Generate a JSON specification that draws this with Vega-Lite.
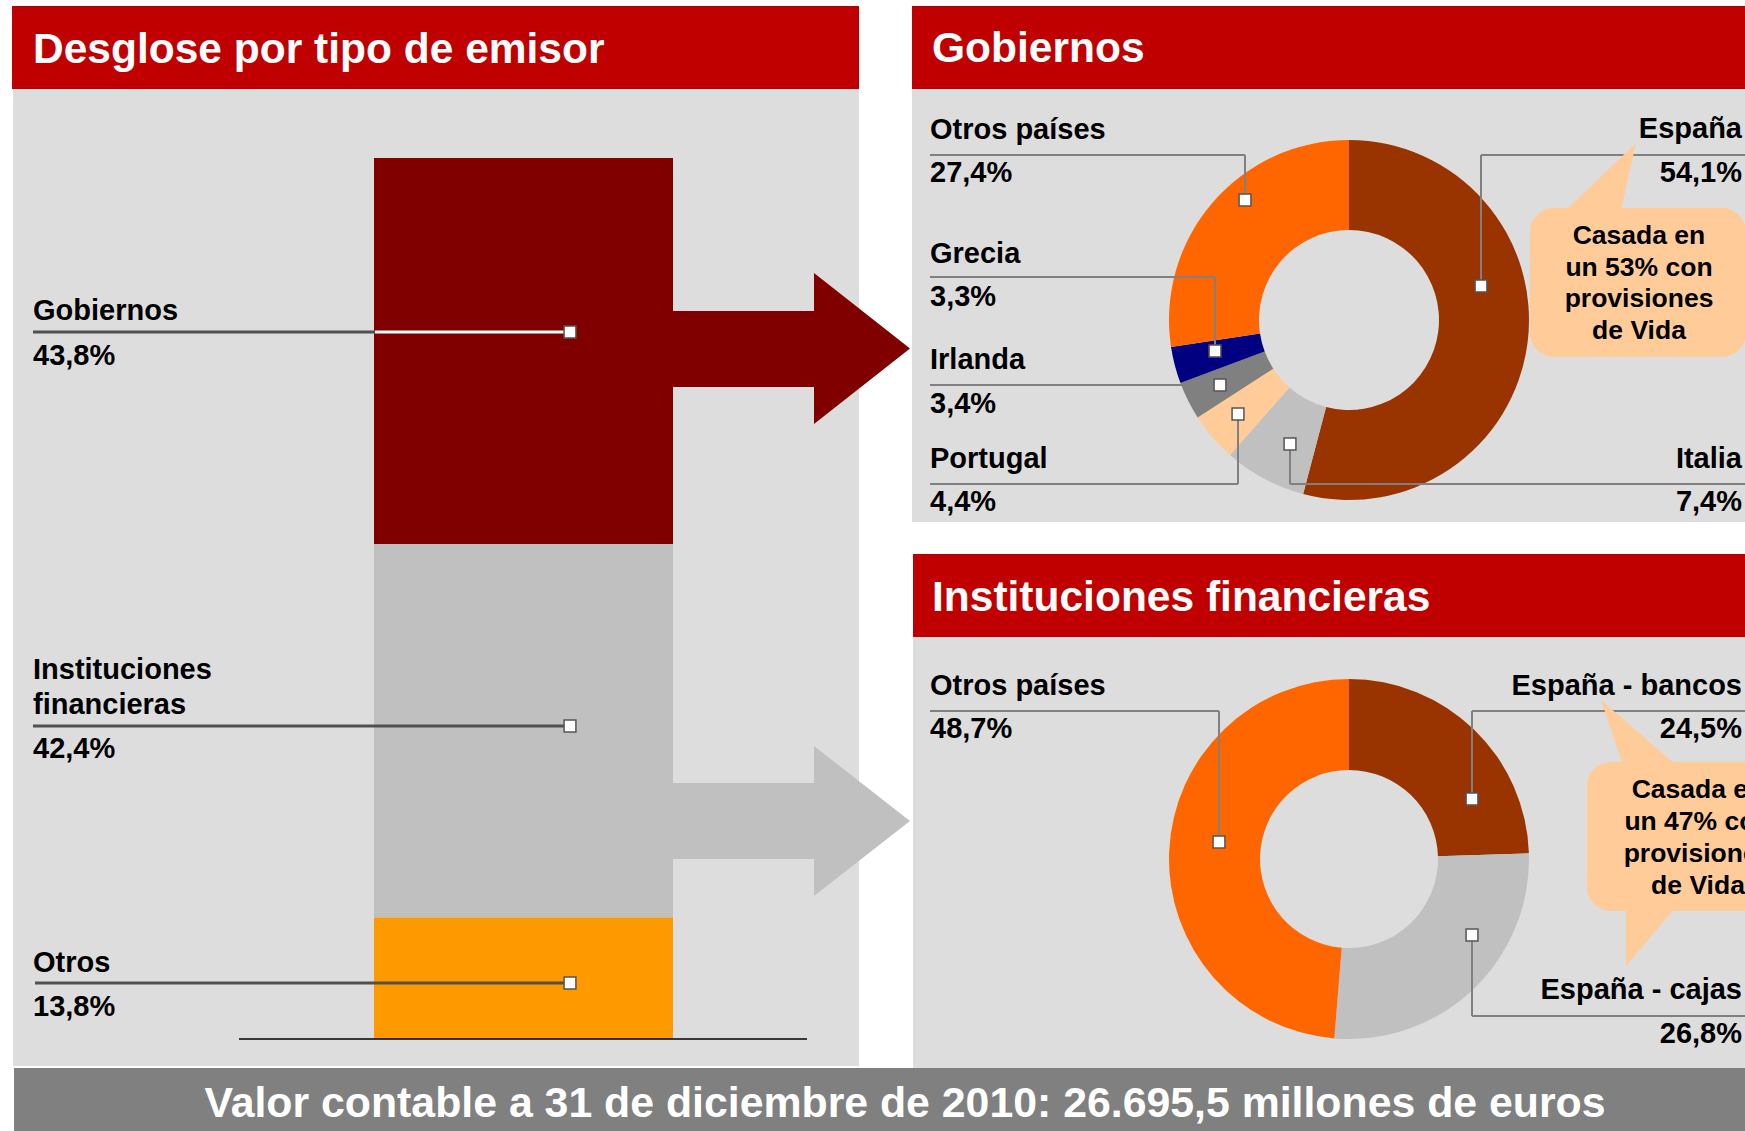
{
  "$schema": "https://vega.github.io/schema/vega-lite/v6.json",
  "width": 1745,
  "height": 1131,
  "autosize": {"type": "none"},
  "padding": 0,
  "background": "white",
  "datasets": {
    "emisor": [
      {"tipo": "Gobiernos", "pct": 43.8, "orden": 3},
      {"tipo": "Instituciones financieras", "pct": 42.4, "orden": 2},
      {"tipo": "Otros", "pct": 13.8, "orden": 1}
    ],
    "gobiernos": [
      {"pais": "España", "pct": 54.1, "orden": 1},
      {"pais": "Italia", "pct": 7.4, "orden": 2},
      {"pais": "Portugal", "pct": 4.4, "orden": 3},
      {"pais": "Irlanda", "pct": 3.4, "orden": 4},
      {"pais": "Grecia", "pct": 3.3, "orden": 5},
      {"pais": "Otros países", "pct": 27.4, "orden": 6}
    ],
    "financieras": [
      {"pais": "España - bancos", "pct": 24.5, "orden": 1},
      {"pais": "España - cajas", "pct": 26.8, "orden": 2},
      {"pais": "Otros países", "pct": 48.7, "orden": 3}
    ]
  },
  "data": {"values": [{}]},
  "config": {
    "view": {"stroke": null},
    "axis": {"disable": true},
    "legend": {"disable": true},
    "text": {"font": "Liberation Sans", "fontWeight": "bold", "fontSize": 29, "color": "black", "baseline": "alphabetic"},
    "rule": {"stroke": "#808080", "strokeWidth": 2},
    "point": {"shape": "square", "size": 140, "filled": true, "fill": "white", "stroke": "#555555", "strokeWidth": 1.5, "opacity": 1},
    "rect": {"strokeWidth": 0}
  },
  "resolve": {"scale": {"y": "independent"}},
  "layer": [
    {
      "layer": [
        {"mark": {"type": "rect", "color": "#DDDDDD"},
         "encoding": {
           "x": {"datum": 13, "type": "quantitative", "scale": {"type": "linear", "domain": [0, 1745], "range": [0, 1745], "nice": false, "zero": false}},
           "x2": {"datum": 859},
           "y": {"datum": 89, "type": "quantitative", "scale": {"type": "linear", "domain": [0, 1131], "range": [0, 1131], "nice": false, "zero": false}},
           "y2": {"datum": 1066}}},
        {"mark": {"type": "rect", "color": "#C00000"},
         "encoding": {"x": {"datum": 12}, "x2": {"datum": 859}, "y": {"datum": 6}, "y2": {"datum": 89}}},
        {"mark": {"type": "rect", "color": "#DDDDDD"},
         "encoding": {"x": {"datum": 912}, "x2": {"datum": 1745}, "y": {"datum": 89}, "y2": {"datum": 522}}},
        {"mark": {"type": "rect", "color": "#C00000"},
         "encoding": {"x": {"datum": 912}, "x2": {"datum": 1745}, "y": {"datum": 6}, "y2": {"datum": 89}}},
        {"mark": {"type": "rect", "color": "#DDDDDD"},
         "encoding": {"x": {"datum": 913}, "x2": {"datum": 1745}, "y": {"datum": 637}, "y2": {"datum": 1068}}},
        {"mark": {"type": "rect", "color": "#C00000"},
         "encoding": {"x": {"datum": 913}, "x2": {"datum": 1745}, "y": {"datum": 554}, "y2": {"datum": 637}}},
        {"mark": {"type": "rect", "color": "#808080"},
         "encoding": {"x": {"datum": 14}, "x2": {"datum": 1745}, "y": {"datum": 1068}, "y2": {"datum": 1131}}},
        {"mark": {"type": "point", "shape": "M -1 -0.3125 L 0.1875 -0.3125 L 0.1875 -0.629 L 0.9875 0 L 0.1875 0.629 L 0.1875 0.3208 L -1 0.3208 Z", "size": 57600, "filled": true, "fill": "#800000", "strokeWidth": 0, "opacity": 1},
         "encoding": {"x": {"datum": 791.5}, "y": {"datum": 348.5}}},
        {"mark": {"type": "point", "shape": "M -1 -0.3167 L 0.1875 -0.3167 L 0.1875 -0.625 L 0.9875 0 L 0.1875 0.625 L 0.1875 0.3167 L -1 0.3167 Z", "size": 57600, "filled": true, "fill": "#C0C0C0", "strokeWidth": 0, "opacity": 1},
         "encoding": {"x": {"datum": 791.5}, "y": {"datum": 821}}}
      ]
    },
    {
      "data": {"name": "emisor"},
      "transform": [{"stack": "pct", "groupby": [], "sort": [{"field": "orden", "order": "ascending"}], "as": ["v0", "v1"]}],
      "mark": {"type": "rect"},
      "encoding": {
        "x": {"datum": 374},
        "x2": {"datum": 673},
        "y": {"field": "v0", "type": "quantitative", "scale": {"type": "linear", "domain": [0, 100], "range": [1039, 158], "nice": false, "zero": false}},
        "y2": {"field": "v1"},
        "color": {"field": "tipo", "type": "nominal", "scale": {"domain": ["Gobiernos", "Instituciones financieras", "Otros", "España", "Italia", "Portugal", "Irlanda", "Grecia", "Otros países", "España - bancos", "España - cajas"], "range": ["#800000", "#C0C0C0", "#FF9900", "#993300", "#C0C0C0", "#FFCC99", "#808080", "#000080", "#FF6600", "#993300", "#C0C0C0"]}}
      }
    },
    {
      "layer": [
        {"mark": {"type": "rule", "stroke": "black", "strokeWidth": 1.5},
         "encoding": {
           "x": {"datum": 239, "type": "quantitative"}, "x2": {"datum": 807},
           "y": {"datum": 1039, "type": "quantitative", "scale": {"type": "linear", "domain": [0, 1131], "range": [0, 1131], "nice": false, "zero": false}}}},
        {"data": {"name": "gobiernos"},
         "mark": {"type": "arc", "innerRadius": 90, "outerRadius": 180},
         "encoding": {
           "x": {"datum": 1349}, "y": {"datum": 320},
           "theta": {"field": "pct", "type": "quantitative", "stack": true},
           "order": {"field": "orden"},
           "color": {"field": "pais", "type": "nominal", "scale": {"domain": ["Gobiernos", "Instituciones financieras", "Otros", "España", "Italia", "Portugal", "Irlanda", "Grecia", "Otros países", "España - bancos", "España - cajas"], "range": ["#800000", "#C0C0C0", "#FF9900", "#993300", "#C0C0C0", "#FFCC99", "#808080", "#000080", "#FF6600", "#993300", "#C0C0C0"]}}}},
        {"data": {"name": "financieras"},
         "mark": {"type": "arc", "innerRadius": 89, "outerRadius": 180},
         "encoding": {
           "x": {"datum": 1349}, "y": {"datum": 859},
           "theta": {"field": "pct", "type": "quantitative", "stack": true},
           "order": {"field": "orden"},
           "color": {"field": "pais", "type": "nominal", "scale": {"domain": ["Gobiernos", "Instituciones financieras", "Otros", "España", "Italia", "Portugal", "Irlanda", "Grecia", "Otros países", "España - bancos", "España - cajas"], "range": ["#800000", "#C0C0C0", "#FF9900", "#993300", "#C0C0C0", "#FFCC99", "#808080", "#000080", "#FF6600", "#993300", "#C0C0C0"]}}}},

        {"mark": {"type": "rule", "stroke": "#505050", "strokeWidth": 3}, "encoding": {"x": {"datum": 33}, "x2": {"datum": 375}, "y": {"datum": 332}}},
        {"mark": {"type": "rule", "stroke": "white", "strokeWidth": 3}, "encoding": {"x": {"datum": 375}, "x2": {"datum": 565}, "y": {"datum": 332}}},
        {"mark": {"type": "rule", "stroke": "#505050", "strokeWidth": 3}, "encoding": {"x": {"datum": 33}, "x2": {"datum": 565}, "y": {"datum": 726}}},
        {"mark": {"type": "rule", "stroke": "#505050", "strokeWidth": 3}, "encoding": {"x": {"datum": 35}, "x2": {"datum": 565}, "y": {"datum": 983}}},

        {"mark": {"type": "rule"}, "encoding": {"x": {"datum": 930}, "x2": {"datum": 1245}, "y": {"datum": 155}}},
        {"mark": {"type": "rule"}, "encoding": {"x": {"datum": 1245}, "y": {"datum": 155}, "y2": {"datum": 195}}},
        {"mark": {"type": "rule"}, "encoding": {"x": {"datum": 930}, "x2": {"datum": 1215}, "y": {"datum": 277}}},
        {"mark": {"type": "rule"}, "encoding": {"x": {"datum": 1215}, "y": {"datum": 277}, "y2": {"datum": 346}}},
        {"mark": {"type": "rule"}, "encoding": {"x": {"datum": 930}, "x2": {"datum": 1220}, "y": {"datum": 385}}},
        {"mark": {"type": "rule"}, "encoding": {"x": {"datum": 930}, "x2": {"datum": 1238}, "y": {"datum": 484}}},
        {"mark": {"type": "rule"}, "encoding": {"x": {"datum": 1238}, "y": {"datum": 419}, "y2": {"datum": 484}}},
        {"mark": {"type": "rule"}, "encoding": {"x": {"datum": 1481}, "x2": {"datum": 1745}, "y": {"datum": 155}}},
        {"mark": {"type": "rule"}, "encoding": {"x": {"datum": 1481}, "y": {"datum": 155}, "y2": {"datum": 281}}},
        {"mark": {"type": "rule"}, "encoding": {"x": {"datum": 1290}, "x2": {"datum": 1745}, "y": {"datum": 484}}},
        {"mark": {"type": "rule"}, "encoding": {"x": {"datum": 1290}, "y": {"datum": 449}, "y2": {"datum": 484}}},
        {"mark": {"type": "rule"}, "encoding": {"x": {"datum": 930}, "x2": {"datum": 1219}, "y": {"datum": 711}}},
        {"mark": {"type": "rule"}, "encoding": {"x": {"datum": 1219}, "y": {"datum": 711}, "y2": {"datum": 837}}},
        {"mark": {"type": "rule"}, "encoding": {"x": {"datum": 1472}, "x2": {"datum": 1745}, "y": {"datum": 711}}},
        {"mark": {"type": "rule"}, "encoding": {"x": {"datum": 1472}, "y": {"datum": 711}, "y2": {"datum": 794}}},
        {"mark": {"type": "rule"}, "encoding": {"x": {"datum": 1472}, "x2": {"datum": 1745}, "y": {"datum": 1016}}},
        {"mark": {"type": "rule"}, "encoding": {"x": {"datum": 1472}, "y": {"datum": 940}, "y2": {"datum": 1016}}},

        {"mark": {"type": "point"}, "encoding": {"x": {"datum": 570}, "y": {"datum": 332}}},
        {"mark": {"type": "point"}, "encoding": {"x": {"datum": 570}, "y": {"datum": 726}}},
        {"mark": {"type": "point"}, "encoding": {"x": {"datum": 570}, "y": {"datum": 983}}},
        {"mark": {"type": "point"}, "encoding": {"x": {"datum": 1245}, "y": {"datum": 200}}},
        {"mark": {"type": "point"}, "encoding": {"x": {"datum": 1215}, "y": {"datum": 351}}},
        {"mark": {"type": "point"}, "encoding": {"x": {"datum": 1220}, "y": {"datum": 385}}},
        {"mark": {"type": "point"}, "encoding": {"x": {"datum": 1238}, "y": {"datum": 414}}},
        {"mark": {"type": "point"}, "encoding": {"x": {"datum": 1481}, "y": {"datum": 286}}},
        {"mark": {"type": "point"}, "encoding": {"x": {"datum": 1290}, "y": {"datum": 444}}},
        {"mark": {"type": "point"}, "encoding": {"x": {"datum": 1219}, "y": {"datum": 842}}},
        {"mark": {"type": "point"}, "encoding": {"x": {"datum": 1472}, "y": {"datum": 799}}},
        {"mark": {"type": "point"}, "encoding": {"x": {"datum": 1472}, "y": {"datum": 935}}},

        {"mark": {"type": "text", "text": "Desglose por tipo de emisor", "fontSize": 42.5, "color": "white", "align": "left"},
         "encoding": {"x": {"datum": 33}, "y": {"datum": 63}}},
        {"mark": {"type": "text", "text": "Gobiernos", "fontSize": 42.5, "color": "white", "align": "left"},
         "encoding": {"x": {"datum": 932}, "y": {"datum": 62}}},
        {"mark": {"type": "text", "text": "Instituciones financieras", "fontSize": 42.5, "color": "white", "align": "left"},
         "encoding": {"x": {"datum": 932}, "y": {"datum": 611}}},
        {"mark": {"type": "text", "text": "Valor contable a 31 de diciembre de 2010: 26.695,5 millones de euros", "fontSize": 42.8, "color": "white", "align": "center"},
         "encoding": {"x": {"datum": 905}, "y": {"datum": 1117}}},

        {"data": {"name": "emisor"},
         "transform": [{"filter": "datum.tipo == 'Gobiernos'"}, {"calculate": "datum.tipo + '\\n' + replace(format(datum.pct, '.1f'), '.', ',') + '%'", "as": "txt"}],
         "mark": {"type": "text", "align": "left", "lineBreak": "\n", "lineHeight": 45},
         "encoding": {"x": {"datum": 33}, "y": {"datum": 320}, "text": {"field": "txt"}}},
        {"data": {"name": "emisor"},
         "transform": [{"filter": "datum.tipo == 'Instituciones financieras'"}, {"calculate": "replace(datum.tipo, ' ', '\\n')", "as": "txt"}],
         "mark": {"type": "text", "align": "left", "lineBreak": "\n", "lineHeight": 35},
         "encoding": {"x": {"datum": 33}, "y": {"datum": 679}, "text": {"field": "txt"}}},
        {"data": {"name": "emisor"},
         "transform": [{"filter": "datum.tipo == 'Instituciones financieras'"}, {"calculate": "replace(format(datum.pct, '.1f'), '.', ',') + '%'", "as": "txt"}],
         "mark": {"type": "text", "align": "left"},
         "encoding": {"x": {"datum": 33}, "y": {"datum": 758}, "text": {"field": "txt"}}},
        {"data": {"name": "emisor"},
         "transform": [{"filter": "datum.tipo == 'Otros'"}, {"calculate": "datum.tipo + '\\n' + replace(format(datum.pct, '.1f'), '.', ',') + '%'", "as": "txt"}],
         "mark": {"type": "text", "align": "left", "lineBreak": "\n", "lineHeight": 44},
         "encoding": {"x": {"datum": 33}, "y": {"datum": 972}, "text": {"field": "txt"}}},

        {"data": {"name": "gobiernos"},
         "transform": [{"filter": "datum.pais == 'Otros países'"}, {"calculate": "datum.pais + '\\n' + replace(format(datum.pct, '.1f'), '.', ',') + '%'", "as": "txt"}],
         "mark": {"type": "text", "align": "left", "lineBreak": "\n", "lineHeight": 43},
         "encoding": {"x": {"datum": 930}, "y": {"datum": 139}, "text": {"field": "txt"}}},
        {"data": {"name": "gobiernos"},
         "transform": [{"filter": "datum.pais == 'Grecia'"}, {"calculate": "datum.pais + '\\n' + replace(format(datum.pct, '.1f'), '.', ',') + '%'", "as": "txt"}],
         "mark": {"type": "text", "align": "left", "lineBreak": "\n", "lineHeight": 43},
         "encoding": {"x": {"datum": 930}, "y": {"datum": 263}, "text": {"field": "txt"}}},
        {"data": {"name": "gobiernos"},
         "transform": [{"filter": "datum.pais == 'Irlanda'"}, {"calculate": "datum.pais + '\\n' + replace(format(datum.pct, '.1f'), '.', ',') + '%'", "as": "txt"}],
         "mark": {"type": "text", "align": "left", "lineBreak": "\n", "lineHeight": 44},
         "encoding": {"x": {"datum": 930}, "y": {"datum": 369}, "text": {"field": "txt"}}},
        {"data": {"name": "gobiernos"},
         "transform": [{"filter": "datum.pais == 'Portugal'"}, {"calculate": "datum.pais + '\\n' + replace(format(datum.pct, '.1f'), '.', ',') + '%'", "as": "txt"}],
         "mark": {"type": "text", "align": "left", "lineBreak": "\n", "lineHeight": 43},
         "encoding": {"x": {"datum": 930}, "y": {"datum": 468}, "text": {"field": "txt"}}},
        {"data": {"name": "gobiernos"},
         "transform": [{"filter": "datum.pais == 'España'"}, {"calculate": "datum.pais + '\\n' + replace(format(datum.pct, '.1f'), '.', ',') + '%'", "as": "txt"}],
         "mark": {"type": "text", "align": "right", "lineBreak": "\n", "lineHeight": 44},
         "encoding": {"x": {"datum": 1742}, "y": {"datum": 138}, "text": {"field": "txt"}}},
        {"data": {"name": "gobiernos"},
         "transform": [{"filter": "datum.pais == 'Italia'"}, {"calculate": "datum.pais + '\\n' + replace(format(datum.pct, '.1f'), '.', ',') + '%'", "as": "txt"}],
         "mark": {"type": "text", "align": "right", "lineBreak": "\n", "lineHeight": 43},
         "encoding": {"x": {"datum": 1742}, "y": {"datum": 468}, "text": {"field": "txt"}}},
        {"data": {"name": "financieras"},
         "transform": [{"filter": "datum.pais == 'Otros países'"}, {"calculate": "datum.pais + '\\n' + replace(format(datum.pct, '.1f'), '.', ',') + '%'", "as": "txt"}],
         "mark": {"type": "text", "align": "left", "lineBreak": "\n", "lineHeight": 43},
         "encoding": {"x": {"datum": 930}, "y": {"datum": 695}, "text": {"field": "txt"}}},
        {"data": {"name": "financieras"},
         "transform": [{"filter": "datum.pais == 'España - bancos'"}, {"calculate": "datum.pais + '\\n' + replace(format(datum.pct, '.1f'), '.', ',') + '%'", "as": "txt"}],
         "mark": {"type": "text", "align": "right", "lineBreak": "\n", "lineHeight": 43},
         "encoding": {"x": {"datum": 1742}, "y": {"datum": 695}, "text": {"field": "txt"}}},
        {"data": {"name": "financieras"},
         "transform": [{"filter": "datum.pais == 'España - cajas'"}, {"calculate": "datum.pais + '\\n' + replace(format(datum.pct, '.1f'), '.', ',') + '%'", "as": "txt"}],
         "mark": {"type": "text", "align": "right", "lineBreak": "\n", "lineHeight": 44},
         "encoding": {"x": {"datum": 1742}, "y": {"datum": 999}, "text": {"field": "txt"}}},

        {"mark": {"type": "rect", "color": "#FFCC99", "cornerRadius": 24},
         "encoding": {"x": {"datum": 1530}, "x2": {"datum": 1746}, "y": {"datum": 208}, "y2": {"datum": 357}}},
        {"mark": {"type": "point", "shape": "M -0.68 0.7 L 0.42 0.7 L 0.72 -0.64 Z", "size": 10000, "filled": true, "fill": "#FFCC99", "strokeWidth": 0, "opacity": 1},
         "encoding": {"x": {"datum": 1600}, "y": {"datum": 175}}},
        {"mark": {"type": "text", "text": ["Casada en", "un 53% con", "provisiones", "de Vida"], "fontSize": 26.5, "lineHeight": 31.5, "align": "center"},
         "encoding": {"x": {"datum": 1639}, "y": {"datum": 244}}},
        {"mark": {"type": "rect", "color": "#FFCC99", "cornerRadius": 24},
         "encoding": {"x": {"datum": 1587}, "x2": {"datum": 1812}, "y": {"datum": 762}, "y2": {"datum": 911}}},
        {"mark": {"type": "point", "shape": "M -0.78 -0.6 L -0.34 0.7 L 0.72 0.7 Z", "size": 10000, "filled": true, "fill": "#FFCC99", "strokeWidth": 0, "opacity": 1},
         "encoding": {"x": {"datum": 1640}, "y": {"datum": 730}}},
        {"mark": {"type": "point", "shape": "M -0.48 -0.6 L 0.52 -0.6 L -0.48 0.58 Z", "size": 10000, "filled": true, "fill": "#FFCC99", "strokeWidth": 0, "opacity": 1},
         "encoding": {"x": {"datum": 1650}, "y": {"datum": 937}}},
        {"mark": {"type": "text", "text": ["Casada en", "un 47% con", "provisiones", "de Vida"], "fontSize": 26.5, "lineHeight": 32, "align": "center"},
         "encoding": {"x": {"datum": 1698}, "y": {"datum": 798}}}
      ]
    }
  ]
}
